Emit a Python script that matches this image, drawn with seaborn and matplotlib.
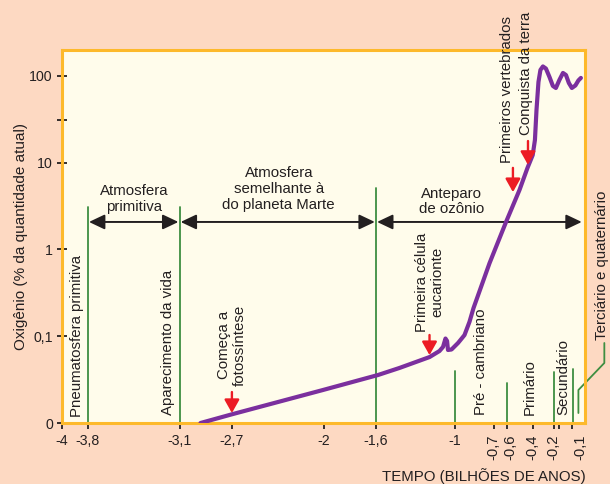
import matplotlib
matplotlib.use("Agg")
import matplotlib.pyplot as plt
import matplotlib.transforms as mtransforms
from matplotlib.ticker import FixedLocator, NullFormatter
import pandas as pd
import seaborn as sns

# Oxygen level through time (billions of years, % of present-day amount)
tempo = [-2.94, -2.70, -2.005, -1.585, -1.42, -1.191, -1.115, -1.088, -1.069,
         -1.057, -1.050, -1.023, -0.973, -0.924, -0.886, -0.855, -0.733, -0.606,
         -0.504, -0.443, -0.403, -0.386, -0.374, -0.359, -0.344, -0.325, -0.302,
         -0.275, -0.249, -0.226, -0.199, -0.172, -0.149, -0.127, -0.104, -0.077,
         -0.054, -0.035]
oxigenio = [0.01, 0.0126, 0.024, 0.0357, 0.0431, 0.0575, 0.0675, 0.0752, 0.094,
            0.0881, 0.0694, 0.0703, 0.0836, 0.103, 0.146, 0.211, 0.692, 2.08,
            4.83, 8.67, 12.2, 18.2, 40.4, 84.8, 116.6, 128, 121,
            96.9, 76.3, 72.3, 89.5, 107.7, 102, 82.6, 72.3, 77.3,
            88.3, 94.4]

# Axis ticks
x_ticks = [-4, -3.8, -3.1, -2.7, -2, -1.6, -1, -0.7, -0.6, -0.4, -0.2, -0.1]
x_tick_labels = ["-4", "-3,8", "-3,1", "-2,7", "-2", "-1,6", "-1",
                 "-0,7", "-0,6", "-0,4", "-0,2", "-0,1"]
y_ticks = [0.01, 0.1, 1, 10, 100]
y_tick_labels = ["0", "0,1", "1", "10", "100"]

# Era boundaries (long green lines) and period markers (short green lines)
eras = [-3.8, -3.1, -1.6]
era_tops = [0.579, 0.579, 0.630]
periods = [-1.0, -0.6, -0.244, -0.099]
period_tops = [0.139, 0.107, 0.137, 0.145]

# Atmosphere phases (double arrows between boundaries)
phase_names = ["Atmosfera\nprimitiva", "Atmosfera\nsemelhante à\ndo planeta Marte",
               "Anteparo\nde ozônio"]
phase_start = [-3.8, -3.1, -1.6]
phase_end = [-3.1, -1.6, -0.02]
phase_label_x = [-3.449, -2.342, -1.023]
phase_label_y = [0.600, 0.627, 0.594]

# Events marked with red arrows
events = ["Começa a\nfotossíntese", "Primeira célula\neucarionte",
          "Primeiros vertebrados", "Conquista da terra"]
event_x = [-2.7, -1.191, -0.554, -0.439]

BG = "#FDD9C2"
PANEL = "#FFFCEB"
FRAME = "#FDB92B"
PURPLE = "#7B2F9E"
GREEN = "#3E8E41"
RED = "#EC1C24"
INK = "#231F20"

sns.set_theme(style="white")
plt.rcParams["font.family"] = ["Liberation Sans", "DejaVu Sans"]
plt.rcParams["text.color"] = INK

fig = plt.figure(figsize=(6.1, 4.84), dpi=100, facecolor=BG)
ax = fig.add_axes([0.1011, 0.1260, 0.8587, 0.7707])
ax.set_facecolor(PANEL)

df = pd.DataFrame({"tempo": tempo, "oxigenio": oxigenio})
sns.lineplot(data=df, x="tempo", y="oxigenio", ax=ax, sort=False,
             color=PURPLE, linewidth=3, zorder=4,
             solid_joinstyle="round", solid_capstyle="round")

ax.set_yscale("log")
ax.set_xlim(-4, 0)
ax.set_ylim(0.01, 198)

ax.xaxis.set_major_locator(FixedLocator(x_ticks))
ax.set_xticklabels(x_tick_labels)
ax.xaxis.set_minor_locator(FixedLocator([-0.244]))
ax.xaxis.set_minor_formatter(NullFormatter())

ax.yaxis.set_major_locator(FixedLocator(y_ticks))
ax.set_yticklabels(y_tick_labels)
ax.yaxis.set_minor_locator(FixedLocator([31]))
ax.yaxis.set_minor_formatter(NullFormatter())

ax.tick_params(axis="x", which="both", direction="out", length=4, width=1.3,
               color=INK, labelcolor=INK, labelsize=10.2, pad=4, bottom=True)
ax.tick_params(axis="y", which="both", direction="inout", length=6.8, width=1.3,
               color=INK, labelsize=10.2, labelcolor=INK, pad=3, left=True)

# Recent-era labels stand vertically, nudged sideways so they do not collide
nudges_px = [0, 3, -1, -5.5, 7.5]
for lbl, dx in zip(ax.get_xticklabels()[7:], nudges_px):
    lbl.set_rotation(90)
    lbl.set_fontsize(10.6)
    lbl.set_transform(lbl.get_transform() +
                      mtransforms.ScaledTranslation(dx / 100, 0, fig.dpi_scale_trans))

for sp in ax.spines.values():
    sp.set_visible(True)
    sp.set_color(FRAME)
    sp.set_linewidth(2.2)

ax.set_ylabel("Oxigênio (% da quantidade atual)", fontsize=11, color=INK)
ax.yaxis.set_label_coords(-0.065, 0.5)
ax.set_xlabel("TEMPO (BILHÕES DE ANOS)", fontsize=10.8, color=INK, loc="right")
ax.xaxis.set_label_coords(1.0, -0.142)
ax.xaxis.label.set_va("center")

trans = mtransforms.blended_transform_factory(ax.transData, ax.transAxes)

for x, top in zip(eras, era_tops):
    ax.plot([x, x], [0, top], transform=trans, color=GREEN, lw=1.3, zorder=2)
for x, top in zip(periods, period_tops):
    ax.plot([x, x], [0.004 if x > -0.2 else 0, top], transform=trans,
            color=GREEN, lw=1.3, zorder=2)

# Leader line for the last period label, drawn past the right edge
ax.plot([-0.054, -0.054, 0.144, 0.144], [0.0268, 0.0885, 0.161, 0.2145],
        transform=trans, color=GREEN, lw=1.3, clip_on=False, zorder=2)

# Phase arrows and labels
for name, x0, x1, lx, ly in zip(phase_names, phase_start, phase_end,
                                phase_label_x, phase_label_y):
    ax.annotate("", xy=(x1, 0.539), xytext=(x0, 0.539),
                xycoords=trans, textcoords=trans,
                arrowprops=dict(arrowstyle="<|-|>,head_length=0.95,head_width=0.45",
                                mutation_scale=10, color=INK, lw=1.4,
                                shrinkA=0.8, shrinkB=0.8), zorder=3)
    ax.text(lx, ly, name, transform=trans, ha="center", va="center",
            fontsize=10.8, linespacing=1.15, multialignment="center", zorder=5)

# Red arrows marking events
arrow_tails = [0.0831, 0.236, 0.684, 0.756]
arrow_tips = [0.0268, 0.182, 0.619, 0.692]
for x, y0, y1 in zip(event_x, arrow_tails, arrow_tips):
    ax.annotate("", xy=(x, y1), xytext=(x, y0), xycoords=trans, textcoords=trans,
                arrowprops=dict(arrowstyle="-|>,head_length=0.8,head_width=0.45",
                                mutation_scale=10, color=RED, lw=1.7,
                                shrinkA=0, shrinkB=0), zorder=5)

# Vertical labels: (text, x, y, vertical alignment)
vertical_labels = [
    ("Pneumatosfera primitiva", -3.886, 0.016, "bottom"),
    ("Aparecimento da vida", -3.189, 0.021, "bottom"),
    (events[0], -2.697, 0.209, "center"),
    (events[1], -1.188, 0.378, "center"),
    (events[2], -0.596, 0.697, "bottom"),
    (events[3], -0.451, 0.772, "bottom"),
    ("Pré - cambriano", -0.796, 0.021, "bottom"),
    ("Primário", -0.4226, 0.021, "bottom"),
    ("Secundário", -0.169, 0.021, "bottom"),
    ("Terciário e quaternário", 0.129, 0.2225, "bottom"),
]
for txt, x, y, va in vertical_labels:
    ax.text(x, y, txt, transform=trans, rotation=90, ha="center", va=va,
            fontsize=10.8, linespacing=1.15, multialignment="center",
            clip_on=False, zorder=5)

fig.savefig("out.png", dpi=100, facecolor=BG)
